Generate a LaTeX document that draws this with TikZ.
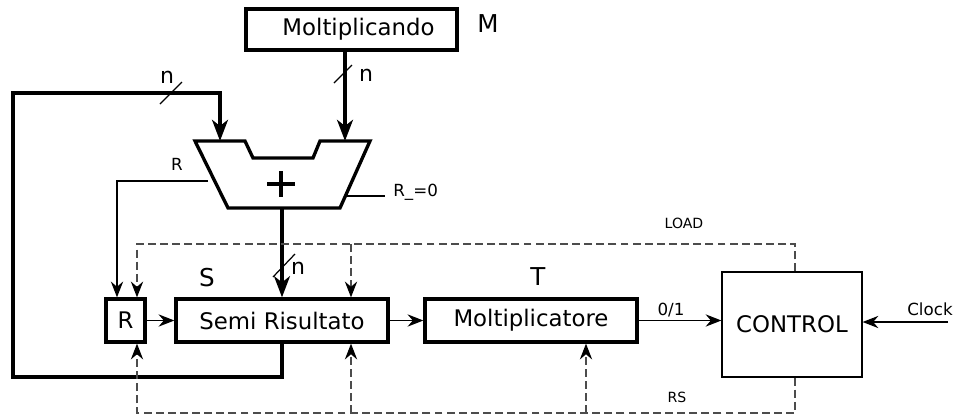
\documentclass[tikz,border=0pt]{standalone}
\usepackage{fontspec}
\setmainfont{DejaVu Sans}
\usetikzlibrary{arrows.meta}
\newcommand\fsz[1]{\fontsize{#1pt}{#1pt}\selectfont}

\begin{document}
\begin{tikzpicture}[x=0.02cm,y=-0.02cm,
  reg/.style={draw, line width=1.9pt, inner sep=0pt, minimum height=0.86cm, font=\fsz{13}},
  big/.style={font=\fsz{14}, inner sep=0pt},
  mid/.style={font=\fsz{9.5}, inner sep=0pt},
  small/.style={font=\fsz{8}, inner sep=0pt},
  buslabel/.style={font=\fsz{12.5}, inner sep=0pt},
  busline/.style={line width=2.8pt},
  bus/.style={busline, -{Stealth[length=12pt,width=9pt,inset=3.5pt]}},
  sig/.style={line width=0.7pt, -{Stealth[length=9pt,width=7pt,inset=3pt]}},
  ctl/.style={draw=black!70, line width=0.7pt, dash pattern=on 4.5pt off 2.4pt},
  ctlarrow/.style={ctl, -{Stealth[length=9pt,width=7pt,inset=3pt,color=black]}},
  slash/.style={line width=0.7pt}]
\useasboundingbox (0,0) rectangle (958,416);

% registers and control unit
\node[reg, minimum width=4.22cm, minimum height=0.82cm] (mc) at (351.5,29.5) {\hspace*{0.28cm}Moltiplicando};
\node[big] (mlab) at (488,24) {M};
\node[reg, minimum width=0.78cm] (rr) at (125.5,320.5) {R};
\node[reg, minimum width=4.24cm] (semi) at (282,320.5) {Semi Risultato};
\node[big] (slab) at (207,278) {S};
\node[reg, minimum width=4.24cm] (molt) at (531,320.5) {Moltiplicatore};
\node[big] (tlab) at (538,277) {T};
\node[draw, line width=0.7pt, inner sep=0pt, minimum width=2.8cm, minimum height=2.1cm, font=\fsz{13}] (ctrl) at (792,324.5) {CONTROL};

% adder
\draw[line width=1.9pt] (195,141) -- (245,141) -- (253,158) -- (313,158) -- (320,141)
  -- (370,141) -- (340,208) -- (228,208) -- cycle;
\draw[line width=2.8pt] (267,184) -- (295,184) (281,171) -- (281,197);
\coordinate (addL) at (220,141);
\coordinate (addR) at (345,141);
\coordinate (addO) at (282,208);
\coordinate (addLt) at (208,181);
\coordinate (addRt) at (345.4,196);

% data buses
\draw[bus] (mc.south -| addR) -- (addR);
\draw[slash] (334,83) -- (352,65);
\node[buslabel] (n1) at (366,75) {n};

\draw[bus] (semi.south -| addO) -- (282,377) -- (13,377) -- (13,93) -- (220,93) -- (addL);
\draw[slash] (160,104) -- (182,82);
\node[buslabel] (n2) at (167,77) {n};

\draw[bus] (addO) -- (semi.north -| addO);
\draw[slash] (273,277) -- (295,254);
\node[buslabel] (n3) at (298,268) {n};

% adder side signals
\coordinate (rx) at (117,0);
\draw[sig] (addLt) -| (rr.north -| rx);
\node[mid] (rlab) at (177,164) {R};
\draw[line width=0.7pt] (addRt) -- (385,196);
\node[mid, anchor=west] (r0) at (393,192) {R\_=0};

% register chain
\draw[sig] (rr) -- (semi);
\draw[sig] (semi) -- (molt);
\draw[sig] (molt.east) -- (molt.east -| ctrl.west);
\node[mid] (bit) at (671,310) {0/1};
\coordinate (clk) at (948,322);
\draw[sig] (clk) -- (clk -| ctrl.east);
\node[mid] (clklab) at (930,309) {Clock};

% control lines
\coordinate (cx) at (795,0);
\coordinate (ld) at (137,244);
\coordinate (lds) at (351,244);
\draw[ctlarrow] (ctrl.north -| cx) |- (ld) -- (rr.north -| ld);
\draw[ctlarrow] (lds) -- (semi.north -| lds);
\node[small] (loadlab) at (684,223) {LOAD};

\coordinate (rs) at (137,413);
\coordinate (rss) at (351,413);
\coordinate (rsm) at (586,413);
\draw[ctlarrow] (ctrl.south -| cx) |- (rs) -- (rr.south -| rs);
\draw[ctlarrow] (rss) -- (semi.south -| rss);
\draw[ctlarrow] (rsm) -- (molt.south -| rsm);
\node[small] (rslab) at (677,397.5) {RS};
\end{tikzpicture}
\end{document}
